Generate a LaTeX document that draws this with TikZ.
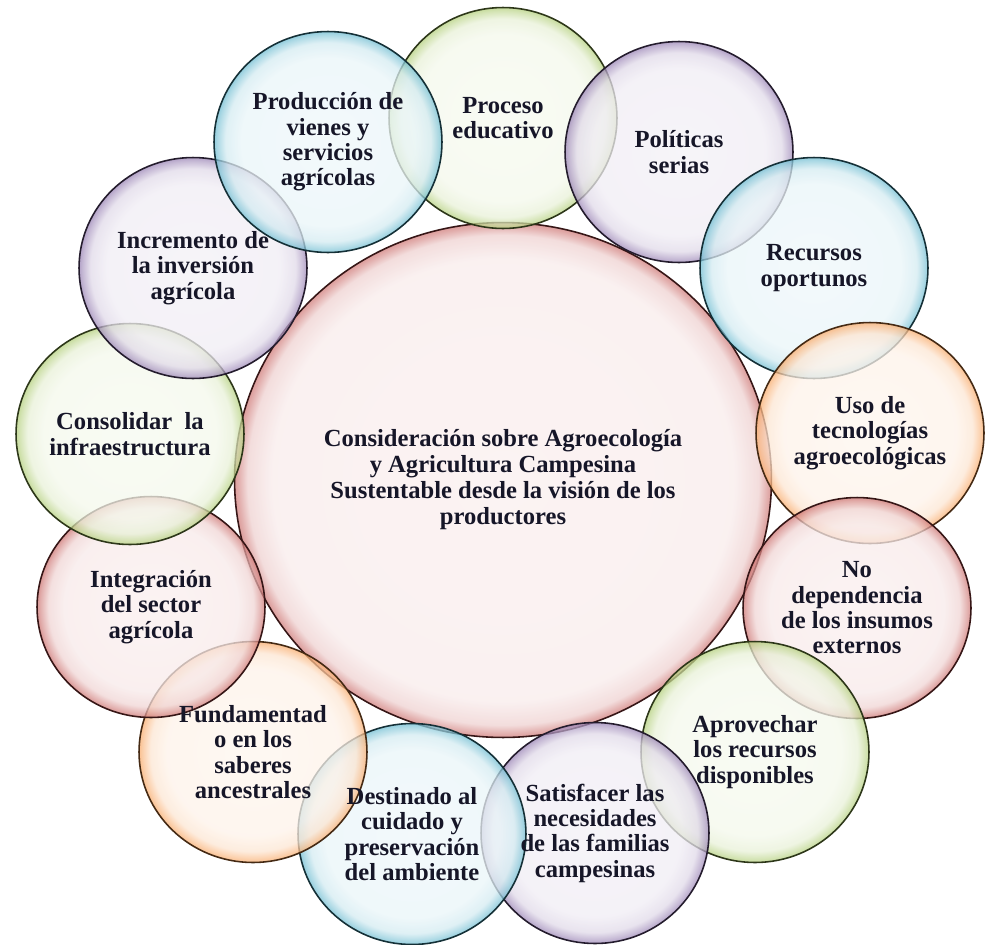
\documentclass[tikz,border=0pt]{standalone}
\usepackage{fontspec}
\setmainfont{Liberation Serif}
\usetikzlibrary{shapes.geometric}

\definecolor{ringgreen}{RGB}{160,195,90}
\definecolor{ringblue}{RGB}{75,172,198}
\definecolor{ringpurple}{RGB}{128,100,162}
\definecolor{ringred}{RGB}{192,80,77}
\definecolor{ringorange}{RGB}{247,150,70}
\definecolor{ink}{RGB}{22,22,40}

\colorlet{ringcol}{ringred}
\pgfdeclareradialshading[ringcol]{glass}{\pgfpoint{0bp}{0bp}}{%
  color(0bp)=(ringcol!9!white); color(19bp)=(ringcol!12!white);
  color(22.5bp)=(ringcol!24!white); color(24.3bp)=(ringcol!62!white);
  color(25bp)=(ringcol!80!white); color(50bp)=(ringcol!80!white)}
\pgfdeclareradialshading[ringcol]{glasshub}{\pgfpoint{0bp}{0bp}}{%
  color(0bp)=(ringcol!9!white); color(21.5bp)=(ringcol!11!white);
  color(23.8bp)=(ringcol!26!white); color(24.6bp)=(ringcol!60!white);
  color(25bp)=(ringcol!75!white); color(50bp)=(ringcol!75!white)}

\begin{document}
\begin{tikzpicture}[x=0.02cm, y=-0.02cm,
    bubble/.style={ellipse, /utils/exec={\colorlet{ringcol}{#1}}, shade, shading=glass,
      fill opacity=0.75, draw=#1!28!black, line width=0.9pt,
      minimum width=4.56cm, minimum height=4.42cm, inner sep=0pt},
    hub/.style={bubble=ringred, shading=glasshub, minimum width=10.74cm, minimum height=10.3cm},
    txt/.style={align=center, text=ink, inner sep=0pt,
      font=\fontsize{14}{14.4}\selectfont\bfseries}]

        \useasboundingbox (0,0) rectangle (990,944);

        % circles
        \node[hub] (CORE) at (503,480) {};
        \node[bubble=ringgreen]  (EDU) at (503,118) {};
        \node[bubble=ringpurple] (POL) at (679,152) {};
        \node[bubble=ringblue]   (REC) at (814,268) {};
        \node[bubble=ringorange] (TEC) at (870,433) {};
        \node[bubble=ringred]    (INS) at (857,608) {};
        \node[bubble=ringgreen]  (APR) at (755,752) {};
        \node[bubble=ringpurple] (FAM) at (595,833) {};
        \node[bubble=ringblue]   (AMB) at (412,834) {};
        \node[bubble=ringorange] (SAB) at (253,752) {};
        \node[bubble=ringred]    (SEC) at (151,607) {};
        \node[bubble=ringgreen]  (INF) at (130,434) {};
        \node[bubble=ringpurple] (INV) at (193,268) {};
        \node[bubble=ringblue]   (PRO) at (328,142) {};

        % texts
        \node[txt, font=\fontsize{14}{14.8}\selectfont\bfseries] (tCORE) at (CORE)
            {Consideración sobre Agroecología\\y Agricultura Campesina\\Sustentable desde la visión de los\\productores};
        \node[txt] (tEDU) at (EDU) {Proceso\\educativo};
        \node[txt] (tPOL) at (POL) {Políticas\\serias};
        \node[txt] (tREC) at (REC) {Recursos\\oportunos};
        \node[txt] (tTEC) at (TEC) {Uso de\\tecnologías\\agroecológicas};
        \node[txt] (tINS) at (INS) {No\\dependencia\\de los insumos\\externos};
        \node[txt] (tAPR) at (APR) {Aprovechar\\los recursos\\disponibles};
        \node[txt] (tFAM) at (FAM) {Satisfacer las\\necesidades\\de las familias\\campesinas};
        \node[txt] (tAMB) at (AMB) {Destinado al\\cuidado y\\preservación\\del ambiente};
        \node[txt] (tSAB) at (SAB) {Fundamentad\\o en los\\saberes\\ancestrales};
        \node[txt] (tSEC) at (SEC) {Integración\\del sector\\agrícola};
        \node[txt] (tINF) at (INF) {Consolidar~ la\\infraestructura};
        \node[txt] (tINV) at (INV) {Incremento de\\la inversión\\agrícola};
        \node[txt] (tPRO) at (PRO) {Producción de\\vienes y\\servicios\\agrícolas};

\end{tikzpicture}
\end{document}
